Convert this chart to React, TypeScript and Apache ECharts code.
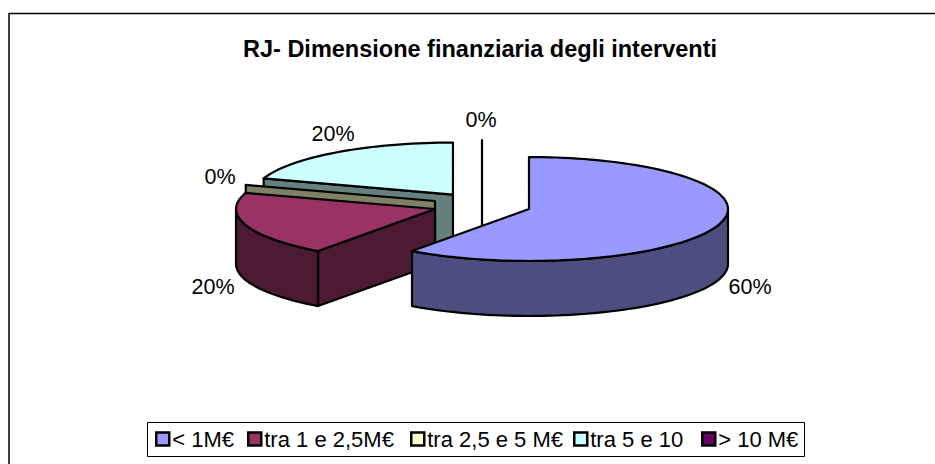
import React, { useEffect, useRef } from "react";
import * as echarts from "echarts";

const title = "RJ- Dimensione finanziaria degli interventi";
const categories = ["< 1M€", "tra 1 e 2,5M€", "tra 2,5 e 5 M€", "tra 5 e 10", "> 10 M€"];
const values = [60, 20, 0, 20, 0];
const topColors = ["#9999FF", "#993366", "#FFFFCC", "#CCFFFF", "#660066"];
const sideColors = ["#4D4D80", "#4D1A33", "#808066", "#668080", "#330033"];

// layout
const CX = 482, CY = 205, RX = 199, RY = 52, DEPTH = 55, EXPLODE = 49.4, KY = 0.262;
const labelAnchors: [number, number][] = [[750, 287], [213, 287], [220, 177], [333, 134], [481, 120]];
const legendLefts = [155, 247, 410, 573, 701];
const FONT = "Liberation Sans";

const total = values.reduce((a, b) => a + b, 0);
const starts: number[] = [];
values.reduce((acc, v, i) => { starts[i] = acc; return acc + (v / total) * 360; }, 0);

const rad = (d: number) => (d * Math.PI) / 180;

function sliceGeom(i: number) {
  const a0 = starts[i];
  const a1 = a0 + (values[i] / total) * 360;
  const mid = rad((a0 + a1) / 2);
  const cx = CX + EXPLODE * Math.sin(mid);
  const cy = CY - EXPLODE * KY * Math.cos(mid);
  const pt = (deg: number, dy = 0): number[] => [cx + RX * Math.sin(rad(deg)), cy - RY * Math.cos(rad(deg)) + dy];
  const arc = (from: number, to: number, dy = 0) => {
    const n = Math.max(1, Math.ceil(Math.abs(to - from) / 2));
    const out: number[][] = [];
    for (let k = 0; k <= n; k++) out.push(pt(from + ((to - from) * k) / n, dy));
    return out;
  };
  return { a0, a1, cx, cy, pt, arc };
}

function renderSlice(i: number) {
  const { a0, a1, cx, cy, pt, arc } = sliceGeom(i);
  const stroke = { stroke: "#000", lineWidth: 2.2, lineJoin: "round" };
  const children: any[] = [];
  const side = sideColors[i];
  const cutFace = (deg: number) => ({
    type: "polygon",
    shape: { points: [[cx, cy], pt(deg), pt(deg, DEPTH), [cx, cy + DEPTH]] },
    style: { fill: side, ...stroke },
  });
  if (values[i] === 0) {
    children.push(cutFace(a0));
  } else {
    // the start face looks at the viewer when it lies on the left half
    if (a0 > 180 && a0 < 360) children.push(cutFace(a0));
    // the end face looks at the viewer when it lies on the right half
    if (a1 > 0 && a1 < 180) children.push(cutFace(a1));
    // outer wall: visible for angles between 90 and 270
    const wa0 = Math.max(a0, 90);
    const wa1 = Math.min(a1, 270);
    if (wa1 > wa0) {
      children.push({
        type: "polygon",
        shape: { points: [...arc(wa0, wa1), ...arc(wa1, wa0, DEPTH)] },
        style: { fill: side, ...stroke },
      });
    }
    children.push({
      type: "polygon",
      shape: { points: [[cx, cy], ...arc(a0, a1)] },
      style: { fill: topColors[i], ...stroke },
    });
  }
  const [lx, ly] = labelAnchors[i];
  children.push({
    type: "text",
    x: lx,
    y: ly,
    z2: 50,
    style: {
      text: `${values[i]}%`,
      fontFamily: FONT,
      fontSize: 21.5,
      fill: "#000",
      align: "center",
      verticalAlign: "middle",
    },
  });
  return { type: "group", children };
}

export default function App() {
  const ref = useRef<HTMLDivElement>(null);
  useEffect(() => {
    const chart = echarts.init(ref.current!, null, { renderer: "svg" });
    const order = [4, 3, 2, 1, 0];
    chart.setOption({
      animation: false,
      backgroundColor: "#fff",
      title: {
        text: title,
        left: 475,
        top: 32,
        textAlign: "center",
        textStyle: { fontFamily: FONT, fontSize: 23.5, fontWeight: "bold", color: "#000" },
      },
      legend: categories.map((name, i) => ({
        show: true,
        data: [{ name, icon: "rect", itemStyle: { color: topColors[i], borderColor: "#000", borderWidth: 2.5 } }],
        left: legendLefts[i],
        top: 428,
        padding: 0,
        itemWidth: 13,
        itemHeight: 13,
        itemGap: 0,
        selectedMode: false,
        textStyle: { fontFamily: FONT, fontSize: 22, color: "#000", padding: [0, 0, 0, -2] },
      })),
      graphic: [
        {
          type: "line",
          shape: { x1: 9, y1: 13.5, x2: 935, y2: 13.5 },
          style: { stroke: "#000", lineWidth: 1.5 },
        },
        {
          type: "line",
          shape: { x1: 9, y1: 13, x2: 9, y2: 464 },
          style: { stroke: "#000", lineWidth: 1.5 },
        },
        {
          type: "rect",
          z: -1,
          shape: { x: 147.5, y: 422.5, width: 657, height: 34 },
          style: { fill: "#fff", stroke: "#000", lineWidth: 1 },
        },
      ],
      series: order.map((i) => ({
        type: "custom",
        name: categories[i],
        coordinateSystem: "none",
        z: 10 + (4 - i),
        silent: true,
        itemStyle: { color: topColors[i] },
        data: [values[i]],
        renderItem: () => renderSlice(i),
      })),
    });
    return () => chart.dispose();
  }, []);
  return <div ref={ref} style={{ width: 935, height: 464, position: "absolute", left: 0, top: 0 }} />;
}
